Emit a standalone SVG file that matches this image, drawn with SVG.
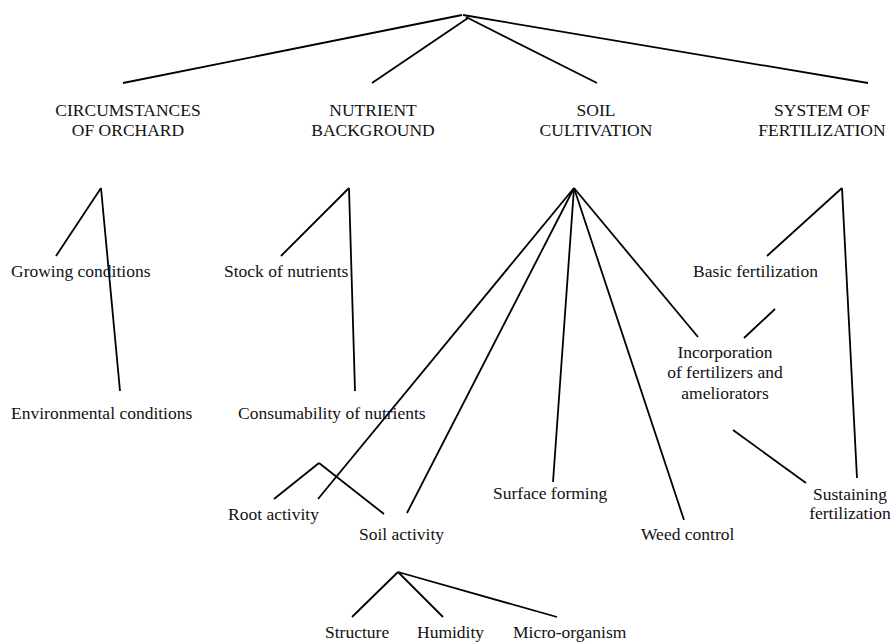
<svg xmlns="http://www.w3.org/2000/svg" width="893" height="643" viewBox="0 0 893 643">
<style>
text{font-family:"Liberation Serif","Times New Roman","DejaVu Serif",serif;font-size:17.5px;fill:#111}
.c{text-anchor:middle}
#connectors line{stroke:#000;stroke-width:1.8;stroke-linecap:butt}
</style>
<rect width="893" height="643" fill="#fff"/>
<g id="connectors">
<line x1="462" y1="15" x2="123" y2="83"/>
<line x1="468" y1="18" x2="372" y2="83"/>
<line x1="466" y1="17" x2="597" y2="83"/>
<line x1="463" y1="15" x2="868" y2="83"/>
<line x1="101" y1="188" x2="56" y2="256"/>
<line x1="101" y1="188" x2="120" y2="391"/>
<line x1="349" y1="188" x2="281" y2="256"/>
<line x1="349" y1="188" x2="355" y2="391"/>
<line x1="574" y1="188" x2="318" y2="499"/>
<line x1="574" y1="188" x2="407" y2="513"/>
<line x1="574" y1="188" x2="553" y2="482"/>
<line x1="574" y1="188" x2="684" y2="520"/>
<line x1="574" y1="188" x2="698" y2="337"/>
<line x1="842" y1="188" x2="767" y2="256"/>
<line x1="842" y1="188" x2="857" y2="478"/>
<line x1="775" y1="309" x2="744" y2="338"/>
<line x1="733" y1="430" x2="806" y2="483"/>
<line x1="319" y1="463" x2="274" y2="499"/>
<line x1="319" y1="463" x2="384" y2="514"/>
<line x1="398" y1="572" x2="352" y2="617"/>
<line x1="398" y1="572" x2="443" y2="617"/>
<line x1="398" y1="572" x2="557" y2="617"/>
</g>
<g id="circumstances"><text class="c" x="128" y="116">CIRCUMSTANCES</text><text class="c" x="128" y="136">OF ORCHARD</text></g>
<g id="nutrient"><text class="c" x="373" y="116">NUTRIENT</text><text class="c" x="373" y="136">BACKGROUND</text></g>
<g id="soil"><text class="c" x="596" y="116">SOIL</text><text class="c" x="596" y="136">CULTIVATION</text></g>
<g id="system"><text class="c" x="822" y="116">SYSTEM OF</text><text class="c" x="822" y="136">FERTILIZATION</text></g>
<g id="growing"><text x="11" y="277">Growing conditions</text></g>
<g id="environmental"><text x="11" y="419">Environmental conditions</text></g>
<g id="stock"><text x="224" y="277">Stock of nutrients</text></g>
<g id="consumability"><text x="238" y="419">Consumability of nutrients</text></g>
<g id="basic"><text x="693" y="277">Basic fertilization</text></g>
<g id="incorporation"><text class="c" x="725" y="358">Incorporation</text><text class="c" x="725" y="378">of fertilizers and</text><text class="c" x="725" y="399">ameliorators</text></g>
<g id="sustaining"><text class="c" x="850" y="500">Sustaining</text><text class="c" x="850" y="519">fertilization</text></g>
<g id="surface"><text x="493" y="499">Surface forming</text></g>
<g id="weed"><text x="641" y="540">Weed control</text></g>
<g id="root"><text x="228" y="520">Root activity</text></g>
<g id="soilactivity"><text x="359" y="540">Soil activity</text></g>
<g id="structure"><text x="325" y="638">Structure</text></g>
<g id="humidity"><text x="417" y="638">Humidity</text></g>
<g id="micro"><text x="513" y="638">Micro-organism</text></g>
</svg>
